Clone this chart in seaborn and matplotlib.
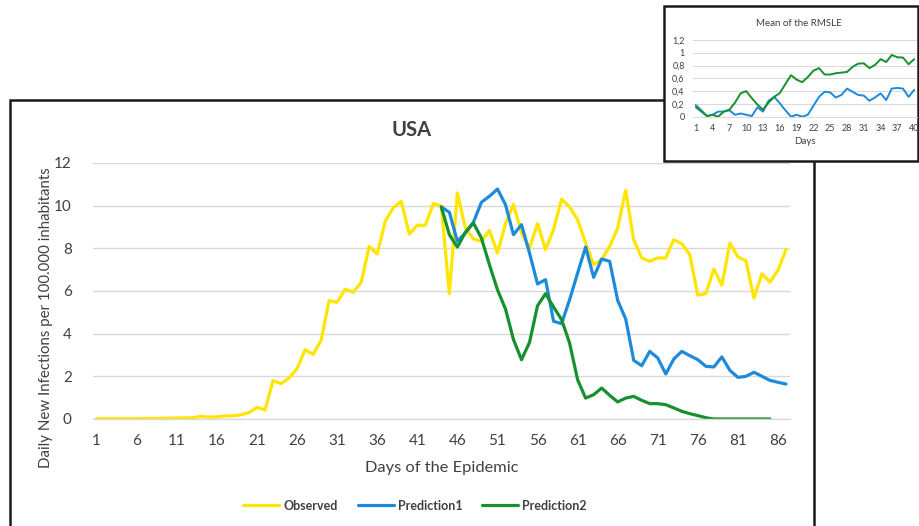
import numpy as np
import pandas as pd
import matplotlib
matplotlib.use("Agg")
import matplotlib.pyplot as plt
import seaborn as sns
from matplotlib.patches import Rectangle
from matplotlib.lines import Line2D

# ---------------- data ----------------
days = list(range(1, 88))
observed = [0.02, 0.02, 0.02, 0.02, 0.02, 0.02, 0.03, 0.03, 0.03, 0.04, 0.05, 0.05, 0.06,
            0.12, 0.09, 0.10, 0.14, 0.15, 0.20, 0.30, 0.55, 0.42, 1.80, 1.66, 1.92, 2.36,
            3.25, 3.03, 3.69, 5.55, 5.47, 6.09, 5.94, 6.40, 8.09, 7.73, 9.27, 9.90, 10.20,
            8.67, 9.08, 9.08, 10.10, 9.97,
            5.875, 10.60, 8.95, 8.44, 8.33, 8.84, 7.78, 9.15, 10.05, 8.72, 8.00, 9.16, 7.94,
            8.88, 10.30, 9.94, 9.34, 8.25, 7.23, 7.47, 8.09, 8.95, 10.72, 8.40, 7.55, 7.39,
            7.55, 7.55, 8.40, 8.22, 7.70, 5.80, 5.875, 7.03, 6.27, 8.25, 7.59, 7.42, 5.67,
            6.81, 6.42, 6.97, 7.94]
pred1_days = list(range(44, 88))
prediction1 = [9.94, 9.69, 8.33, 8.72, 9.22, 10.16, 10.44, 10.78, 10.05, 8.64, 9.11, 7.78,
               6.33, 6.53, 4.58, 4.47, 5.59, 6.84, 8.06, 6.64, 7.50, 7.39, 5.56, 4.69, 2.75,
               2.50, 3.17, 2.86, 2.11, 2.81, 3.17, 2.97, 2.78, 2.47, 2.44, 2.91, 2.28, 1.95,
               2.00, 2.19, 2.00, 1.81, 1.72, 1.64]
pred2_days = list(range(44, 86))
prediction2 = [9.94, 8.64, 8.06, 8.75, 9.19, 8.48, 7.23, 6.06, 5.16, 3.72, 2.78, 3.59, 5.31,
               5.875, 5.25, 4.66, 3.56, 1.84, 0.98, 1.14, 1.45, 1.11, 0.80, 0.98, 1.06, 0.875,
               0.72, 0.72, 0.67, 0.52, 0.36, 0.25, 0.16, 0.06, 0.0, 0.0, 0.0, 0.0, 0.0, 0.0,
               0.0, 0.0]
main_xticks = list(range(1, 87, 5))
main_yticks = [0, 2, 4, 6, 8, 10, 12]

inset_days = list(range(1, 41))
rmsle_pred1 = [0.18, 0.10, 0.01, 0.03, 0.08, 0.08, 0.10, 0.03, 0.05, 0.03, 0.01, 0.146, 0.08,
               0.25, 0.31, 0.21, 0.10, 0.0, 0.03, 0.0, 0.03, 0.17, 0.31, 0.39, 0.38, 0.30,
               0.34, 0.44, 0.39, 0.34, 0.33, 0.25, 0.30, 0.365, 0.26, 0.44, 0.45, 0.44, 0.31,
               0.42]
rmsle_pred2 = [0.15, 0.08, 0.01, 0.03, 0.0, 0.08, 0.11, 0.22, 0.365, 0.40, 0.29, 0.19, 0.11,
               0.22, 0.31, 0.37, 0.51, 0.65, 0.58, 0.54, 0.62, 0.72, 0.76, 0.66, 0.66, 0.68,
               0.69, 0.70, 0.78, 0.83, 0.835, 0.76, 0.81, 0.90, 0.855, 0.965, 0.93, 0.925,
               0.82, 0.90]
inset_xticks = list(range(1, 41, 3))
inset_yticks = [0, 0.2, 0.4, 0.6, 0.8, 1.0, 1.2]
inset_yticklabels = ["0", "0,2", "0,4", "0,6", "0,8", "1", "1,2"]

series_names = ["Observed", "Prediction1", "Prediction2"]
colors = {"Observed": "#FFE500", "Prediction1": "#1E8BDA", "Prediction2": "#17902F"}

# ---------------- figure ----------------
sns.set_theme(style="white")
plt.rcParams['font.family'] = ['Lato', 'DejaVu Sans']

W, H = 919, 526
fig = plt.figure(figsize=(W / 100, H / 100), dpi=100)
fig.patch.set_facecolor("white")


def fx(x):
    return x / W


def fy(y):
    return 1 - y / H


TXT = "#404040"
GRID = "#D9D9D9"

# main chart frame
fig.add_artist(Rectangle((fx(10), -0.05), fx(814) - fx(10), fy(100) + 0.05,
                         transform=fig.transFigure, fill=False, edgecolor="#1a1a1a",
                         lw=1.8, zorder=0.5))

ax = fig.add_axes([fx(92.7), fy(419), (790 - 92.7) / W, (419 - 163) / H])
ax.set_zorder(1)

df = pd.concat([
    pd.DataFrame({"Day": days, "Value": observed, "Series": "Observed"}),
    pd.DataFrame({"Day": pred1_days, "Value": prediction1, "Series": "Prediction1"}),
    pd.DataFrame({"Day": pred2_days, "Value": prediction2, "Series": "Prediction2"}),
], ignore_index=True)

sns.lineplot(data=df, x="Day", y="Value", hue="Series", hue_order=series_names,
             palette=colors, lw=2.3, ax=ax, legend=False, sort=False)

ax.set_xlim(0.5, 87.5)
ax.set_ylim(0, 12)
ax.set_xticks(main_xticks)
ax.set_xticks(np.arange(0.5, 88, 1), minor=True)
ax.set_yticks(main_yticks)
ax.tick_params(axis="x", which="major", length=0, pad=11, labelsize=11, labelcolor=TXT)
ax.tick_params(axis="x", which="minor", length=7, direction="inout", color=GRID, width=1)
ax.tick_params(axis="y", length=0, pad=15, labelsize=11, labelcolor=TXT)
ax.yaxis.grid(True, color=GRID, lw=1)
ax.set_axisbelow(True)
for s in ["top", "right", "left"]:
    ax.spines[s].set_visible(False)
ax.spines["bottom"].set_color(GRID)
ax.spines["bottom"].set_linewidth(1)
ax.set_xlabel("Days of the Epidemic", fontsize=11.8, color=TXT, labelpad=9)
ax.set_ylabel("Daily New Infections per 100.000 inhabitants", fontsize=10.8, color=TXT)
ax.yaxis.set_label_coords(-0.057, 0.395)

fig.text(fx(412), fy(130), "USA", ha="center", va="center", fontsize=14.5,
         fontweight="bold", color=TXT)

handles = [Line2D([0], [0], color=colors[n], lw=2.3) for n in series_names]
fig.legend(handles, series_names, loc="center", bbox_to_anchor=(fx(415), fy(505.5)),
           ncol=3, frameon=False, handlelength=2.9, handletextpad=0.3, columnspacing=1.6,
           prop={"weight": "bold", "size": 9}, labelcolor=TXT)

# ---------------- inset ----------------
fig.add_artist(Rectangle((fx(664), fy(161)), fx(918) - fx(664), fy(6) - fy(161),
                         transform=fig.transFigure, facecolor="white", edgecolor="#1a1a1a",
                         lw=1.8, zorder=2))
ax2 = fig.add_axes([fx(693), fy(116.7), (917 - 693) / W, (116.7 - 40) / H])
ax2.set_zorder(3)
ax2.patch.set_alpha(0)

dfi = pd.concat([
    pd.DataFrame({"Day": inset_days, "Value": rmsle_pred1, "Series": "Prediction1"}),
    pd.DataFrame({"Day": inset_days, "Value": rmsle_pred2, "Series": "Prediction2"}),
], ignore_index=True)
sns.lineplot(data=dfi, x="Day", y="Value", hue="Series",
             hue_order=["Prediction1", "Prediction2"], palette=colors, lw=1.4, ax=ax2,
             legend=False, sort=False)
ax2.set_xlim(0.5, 40.5)
ax2.set_ylim(0, 1.2)
ax2.set_xticks(inset_xticks)
ax2.set_xticks(np.arange(0.5, 41, 1), minor=True)
ax2.set_yticks(inset_yticks)
ax2.set_yticklabels(inset_yticklabels)
ax2.tick_params(axis="x", which="major", length=0, pad=5, labelsize=6.5, labelcolor=TXT)
ax2.tick_params(axis="x", which="minor", length=4, direction="inout", color=GRID, width=0.8)
ax2.tick_params(axis="y", length=0, pad=6, labelsize=6.5, labelcolor=TXT)
ax2.yaxis.grid(True, color=GRID, lw=0.7)
ax2.set_axisbelow(True)
for s in ["top", "right", "left"]:
    ax2.spines[s].set_visible(False)
ax2.spines["bottom"].set_color(GRID)
ax2.spines["bottom"].set_linewidth(0.7)
ax2.set_xlabel("Days", fontsize=7, color=TXT, labelpad=3)
ax2.set_ylabel("")
fig.text(fx(799), fy(23), "Mean of the RMSLE", ha="center", va="center", fontsize=7,
         color=TXT, zorder=4)

fig.savefig("out.png", dpi=100, facecolor="white")
